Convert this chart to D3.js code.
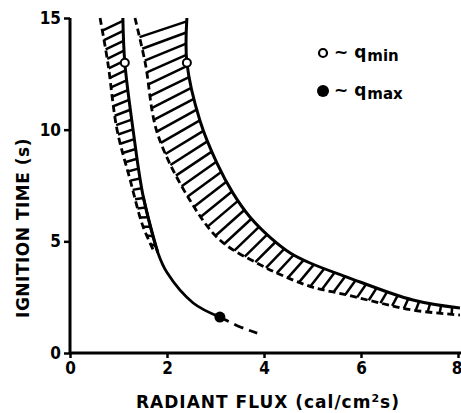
<!DOCTYPE html>
<html>
<head>
<meta charset="utf-8">
<script src="https://cdn.jsdelivr.net/npm/d3@7"></script>
<style>
  html, body { margin: 0; padding: 0; background: #fff; }
  text { font-family: "DejaVu Sans", sans-serif; font-weight: bold; fill: #000; }
</style>
</head>
<body>
<div id="content"></div>
<script>
// ticks
const xTicks = [0, 2, 4, 6, 8];
const yTicks = [0, 5, 10, 15];

// left band (narrow): solid right edge, hatched left edge, dashed tail
const leftBandSolid = [[1.09, 15], [1.13, 13], [1.30, 10], [1.51, 7], [1.81, 4.5], [2.0, 3.6], [2.54, 2.24], [3.09, 1.61]];
const leftBandDashed = [[0.62, 15], [0.78, 13], [0.97, 10], [1.24, 7.75], [1.50, 5.7], [1.72, 4.6]];
const leftTail = [[3.09, 1.61], [3.46, 1.21], [3.86, 0.89]];

// right band (wide)
const rightBandSolid = [[2.41, 15], [2.41, 13], [2.68, 10.4], [3.03, 8.5], [3.36, 7.16], [3.71, 6.09], [4.12, 5.19], [4.54, 4.48], [4.95, 4.03], [5.71, 3.40], [7.07, 2.37], [8.04, 2.01]];
const rightBandDashed = [[1.34, 15], [1.55, 13], [1.80, 9.85], [2.47, 6.85], [3.09, 5.06], [3.92, 3.95], [4.4, 3.45], [5.0, 2.95], [5.71, 2.6], [6.39, 2.24], [7.07, 1.92], [8.04, 1.7]];

// markers
const qMin = [[1.13, 13], [2.41, 13]];
const qMax = [[3.09, 1.61]];

const width = 461, height = 413;
const margin = { top: 18, right: 2, bottom: 60, left: 70 };

const svg = d3.select('#content').append('svg')
  .attr('width', width).attr('height', height);

const x = d3.scaleLinear().domain([0, 8]).range([margin.left, width - margin.right - 1]);
const y = d3.scaleLinear().domain([0, 15]).range([height - margin.bottom, margin.top]);

const line = d3.line().x(d => x(d[0])).y(d => y(d[1])).curve(d3.curveCatmullRom);

// hatching between two edges
function band (lower, upper, n, shift) {
  const g = svg.append('g');
  const lo = g.append('path').attr('d', line(lower)).attr('fill', 'none')
    .attr('stroke', '#000').attr('stroke-width', 2.8).attr('stroke-dasharray', '7 4');
  const up = g.append('path').attr('d', line(upper)).attr('fill', 'none')
    .attr('stroke', '#000').attr('stroke-width', 3);
  const L1 = lo.node().getTotalLength();
  const L2 = up.node().getTotalLength();
  for (let i = 0; i < n; i++) {
    const s = (i + 0.3) / n;
    const p1 = lo.node().getPointAtLength(Math.min(L1, s * L1 + shift * (1 - s)));
    const p2 = up.node().getPointAtLength(s * L2);
    g.append('line')
      .attr('x1', p1.x).attr('y1', p1.y).attr('x2', p2.x).attr('y2', p2.y)
      .attr('stroke', '#000').attr('stroke-width', 2.5);
  }
}

band(leftBandDashed, leftBandSolid.slice(0, 5), 24, 10);
band(rightBandDashed, rightBandSolid, 40, 16);

// rest of left curve
svg.append('path').attr('d', line(leftBandSolid.slice(3))).attr('fill', 'none')
  .attr('stroke', '#000').attr('stroke-width', 2.8);
svg.append('path').attr('d', line(leftTail)).attr('fill', 'none')
  .attr('stroke', '#000').attr('stroke-width', 2.8).attr('stroke-dasharray', '10 6');

// markers
svg.selectAll('.qmin').data(qMin).join('circle')
  .attr('cx', d => x(d[0])).attr('cy', d => y(d[1])).attr('r', 4)
  .attr('fill', '#fff').attr('stroke', '#000').attr('stroke-width', 2);
svg.selectAll('.qmax').data(qMax).join('circle')
  .attr('cx', d => x(d[0])).attr('cy', d => y(d[1])).attr('r', 5.5)
  .attr('fill', '#000');

// axes
const xAxis = svg.append('g').attr('transform', `translate(0,${y(0)})`)
  .call(d3.axisBottom(x).tickValues(xTicks).tickSize(5).tickPadding(4).tickFormat(d3.format('d')));
const yAxis = svg.append('g').attr('transform', `translate(${x(0)},0)`)
  .call(d3.axisLeft(y).tickValues(yTicks).tickSize(6).tickPadding(3).tickFormat(d3.format('d')));
[xAxis, yAxis].forEach(a => {
  a.select('.domain').attr('stroke-width', 3).attr('d', a === xAxis
    ? `M${x(0) - 1},0H${width}` : `M0,${y(0) + 1}V${y(15)}`);
  a.selectAll('.tick line').attr('stroke-width', 2.5);
  a.selectAll('.tick text').style('font-size', '17px').style('font-family', '"DejaVu Sans Condensed", sans-serif').style('font-weight', 'bold');
});
// last x label sits on the picture's edge, as in the original
xAxis.selectAll('.tick text').filter(d => d === 8).attr('text-anchor', 'end').attr('dx', 4);

// axis titles
svg.append('text')
  .attr('x', 268).attr('y', 408)
  .attr('text-anchor', 'middle').style('font-size', '17px').style('letter-spacing', '1px')
  .html('RADIANT FLUX (cal/cm<tspan dy="-6" font-size="11px">2</tspan><tspan dy="6">s)</tspan>');
svg.append('text')
  .attr('transform', 'translate(29,228) rotate(-90)')
  .attr('text-anchor', 'middle').style('font-size', '17px').style('letter-spacing', '0.5px')
  .text('IGNITION TIME (s)');

// legend
const leg = svg.append('g');
leg.append('circle').attr('cx', 323).attr('cy', 53).attr('r', 4)
  .attr('fill', '#fff').attr('stroke', '#000').attr('stroke-width', 2.2);
leg.append('circle').attr('cx', 323).attr('cy', 91).attr('r', 6).attr('fill', '#000');
leg.append('text').attr('x', 334).attr('y', 58).style('font-size', '17px')
  .html('~ q<tspan dx="1" dy="3" font-size="15px">min</tspan>');
leg.append('text').attr('x', 334).attr('y', 96).style('font-size', '17px')
  .html('~ q<tspan dx="1" dy="3" font-size="15px">max</tspan>');
</script>
</body>
</html>
